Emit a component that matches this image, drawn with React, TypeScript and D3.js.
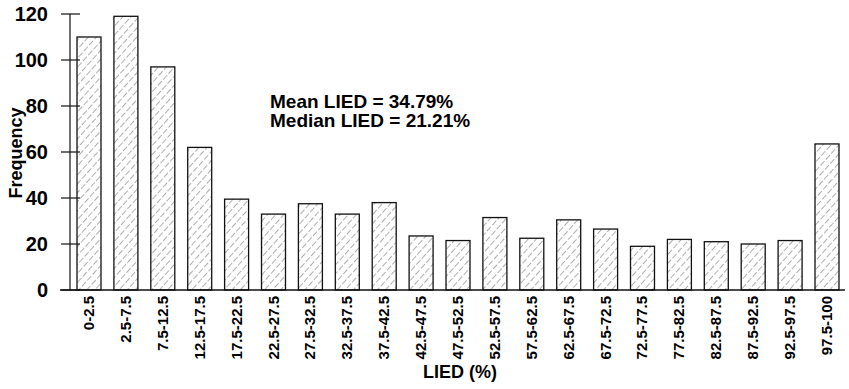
import * as d3 from "d3";
import * as React from "react";

const categories = [
    "0-2.5", "2.5-7.5", "7.5-12.5", "12.5-17.5", "17.5-22.5", "22.5-27.5", "27.5-32.5",
    "32.5-37.5", "37.5-42.5", "42.5-47.5", "47.5-52.5", "52.5-57.5", "57.5-62.5",
    "62.5-67.5", "67.5-72.5", "72.5-77.5", "77.5-82.5", "82.5-87.5", "87.5-92.5",
    "92.5-97.5", "97.5-100",
];
const frequencies = [
    110, 119, 97, 62, 39.5, 33, 37.5, 33, 38, 23.5, 21.5, 31.5, 22.5, 30.5, 26.5,
    19, 22, 21, 20, 21.5, 63.5,
];
const yTicks = [0, 20, 40, 60, 80, 100, 120];
const notes = ["Mean LIED = 34.79%", "Median LIED = 21.21%"];

const W = 849;
const H = 389;
const font = "'Liberation Sans', Arial, Helvetica, sans-serif";

export default function App(): JSX.Element {
    const ref = React.useRef<SVGSVGElement>(null);

    const x = d3.scaleBand<string>()
        .domain(categories)
        .range([70, 846])
        .paddingInner(0.35)
        .paddingOuter(0.19);
    const y = d3.scaleLinear().domain([0, 120]).range([290, 14]);

    React.useEffect(() => {
        const svg = d3.select(ref.current);
        svg.selectAll("*").remove();

        const defs = svg.append("defs");
        const pat = defs.append("pattern")
            .attr("id", "hatch")
            .attr("patternUnits", "userSpaceOnUse")
            .attr("width", 6)
            .attr("height", 8)
            .attr("patternTransform", "rotate(42)");
        pat.append("line")
            .attr("x1", 0).attr("y1", 0).attr("x2", 0).attr("y2", 8)
            .attr("stroke", "#333")
            .attr("stroke-width", 0.8)
            .attr("stroke-dasharray", "6,2");

        // bars
        svg.append("g")
            .selectAll("rect")
            .data(frequencies)
            .enter()
            .append("rect")
            .attr("x", (_, i) => x(categories[i])!)
            .attr("y", d => y(d))
            .attr("width", x.bandwidth())
            .attr("height", d => y(0) - y(d))
            .attr("fill", "url(#hatch)")
            .attr("stroke", "#111")
            .attr("stroke-width", 1.3);

        // y axis
        const ya = svg.append("g");
        ya.append("line")
            .attr("x1", 70).attr("x2", 70)
            .attr("y1", y(120)).attr("y2", y(0))
            .attr("stroke", "#111").attr("stroke-width", 1.2);
        ya.selectAll("line.tick")
            .data(yTicks)
            .enter()
            .append("line")
            .attr("class", "tick")
            .attr("x1", 61).attr("x2", 80)
            .attr("y1", d => y(d)).attr("y2", d => y(d))
            .attr("stroke", "#111").attr("stroke-width", 1.2);
        ya.selectAll("text")
            .data(yTicks)
            .enter()
            .append("text")
            .attr("x", 48)
            .attr("y", d => y(d))
            .attr("dy", "0.36em")
            .attr("text-anchor", "end")
            .style("font", `bold 20px ${font}`)
            .text(d => d);

        // x axis
        svg.append("line")
            .attr("x1", 60).attr("x2", 845)
            .attr("y1", y(0)).attr("y2", y(0))
            .attr("stroke", "#111").attr("stroke-width", 1.3);

        svg.append("g")
            .selectAll("text")
            .data(categories)
            .enter()
            .append("text")
            .attr("transform", d => `translate(${x(d)! + x.bandwidth() / 2 + 5},296) rotate(-90)`)
            .attr("text-anchor", "end")
            .style("font", `bold 15px ${font}`)
            .text(d => d);

        svg.append("text")
            .attr("x", 460).attr("y", 378)
            .attr("text-anchor", "middle")
            .style("font", `bold 18px ${font}`)
            .text("LIED (%)");

        svg.append("text")
            .attr("transform", "translate(22,153) rotate(-90)")
            .attr("text-anchor", "middle")
            .style("font", `bold 18px ${font}`)
            .text("Frequency");

        svg.append("g")
            .selectAll("text")
            .data(notes)
            .enter()
            .append("text")
            .attr("x", 270)
            .attr("y", (_, i) => 108 + i * 19)
            .style("font", `bold 19px ${font}`)
            .text(d => d);
    }, [x, y]);

    return (
        <svg
            ref={ref}
            width={W}
            height={H}
            style={{ position: "absolute", left: 0, top: 0, background: "#fff" }}
        />
    );
}
